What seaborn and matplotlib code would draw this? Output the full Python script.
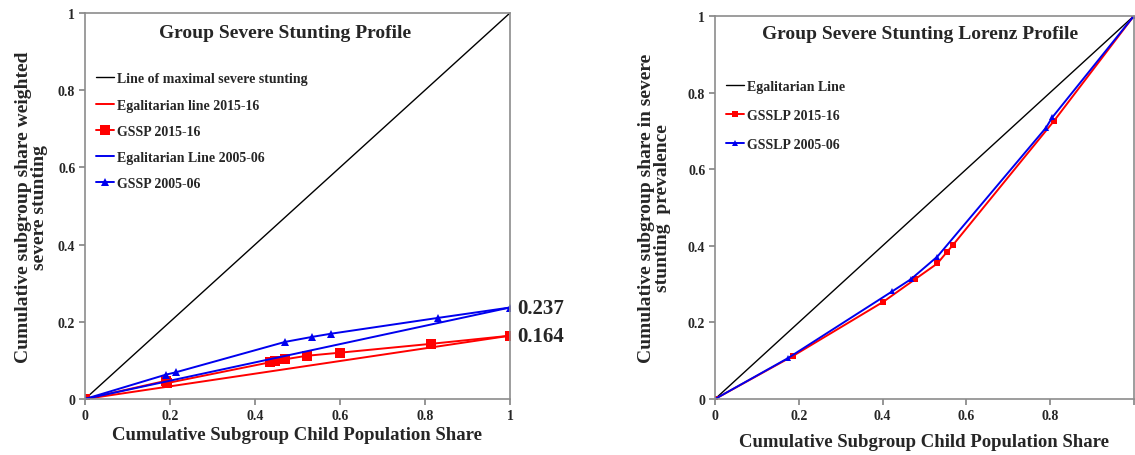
import pandas as pd
import seaborn as sns
import matplotlib.pyplot as plt

# Left panel: Group Severe Stunting Profile
gssp_x_2015 = [0.0, 0.190, 0.192, 0.435, 0.447, 0.471, 0.522, 0.600, 0.815, 1.0]
gssp_y_2015 = [0.0, 0.047, 0.041, 0.095, 0.099, 0.103, 0.112, 0.120, 0.143, 0.164]
gssp_x_2005 = [0.0, 0.190, 0.213, 0.471, 0.535, 0.578, 0.830, 1.0]
gssp_y_2005 = [0.0, 0.063, 0.069, 0.148, 0.161, 0.169, 0.210, 0.237]
egal_end_2015 = 0.164
egal_end_2005 = 0.237

# Right panel: Group Severe Stunting Lorenz Profile
gsslp_x_2015 = [0.0, 0.187, 0.402, 0.478, 0.531, 0.553, 0.568, 0.810, 1.0]
gsslp_y_2015 = [0.0, 0.113, 0.254, 0.313, 0.354, 0.383, 0.402, 0.727, 1.0]
gsslp_x_2005 = [0.0, 0.173, 0.423, 0.468, 0.531, 0.790, 0.805, 1.0]
gsslp_y_2005 = [0.0, 0.106, 0.281, 0.313, 0.372, 0.708, 0.735, 1.0]

ticks = [0, 0.2, 0.4, 0.6, 0.8, 1]
tick_labels = ['0', '0.2', '0.4', '0.6', '0.8', '1']
# the right panel's last x label falls outside the picture in the original
right_x_labels = ['0', '0.2', '0.4', '0.6', '0.8', '']

sns.set_theme(style='white')
plt.rcParams['font.family'] = ['Liberation Serif', 'DejaVu Serif']
plt.rcParams['font.weight'] = 'bold'

RED = '#ff0000'
BLUE = '#0000ee'

fig = plt.figure(figsize=(11.35, 4.56), dpi=100)
ax1 = fig.add_axes([0.0749, 0.1228, 0.3744, 0.8465])
ax2 = fig.add_axes([0.630, 0.1228, 0.369, 0.8400])


def style_axes(ax, xlabels):
    ax.set_xlim(0, 1)
    ax.set_ylim(0, 1)
    ax.set_xticks(ticks)
    ax.set_xticklabels(xlabels)
    ax.set_yticks(ticks)
    ax.set_yticklabels(tick_labels)
    ax.tick_params(axis='both', which='major', direction='out', length=4,
                   color='#888888', labelsize=10, pad=3, bottom=True, left=True)
    for lab in ax.get_xticklabels() + ax.get_yticklabels():
        lab.set_fontweight('bold')
    for sp in ax.spines.values():
        sp.set_color('#8c8c8c')
        sp.set_linewidth(1.2)


# ---- left panel ----
sns.lineplot(x=[0, 1], y=[0, 1], color='black', linewidth=1.0,
             label='Line of maximal severe stunting', ax=ax1)
sns.lineplot(x=[0, 1], y=[0, egal_end_2015], color=RED, linewidth=1.4,
             label='Egalitarian line 2015-16', ax=ax1)
sns.lineplot(x=gssp_x_2015, y=gssp_y_2015, color=RED, linewidth=1.4,
             marker='s', markersize=7, markeredgewidth=0, sort=False,
             estimator=None, label='GSSP 2015-16', ax=ax1)
sns.lineplot(x=[0, 1], y=[0, egal_end_2005], color=BLUE, linewidth=1.4,
             label='Egalitarian Line 2005-06', ax=ax1)
sns.lineplot(x=gssp_x_2005, y=gssp_y_2005, color=BLUE, linewidth=1.4,
             marker='^', markersize=6, markeredgewidth=0, sort=False,
             estimator=None, label='GSSP 2005-06', ax=ax1)
style_axes(ax1, tick_labels)
ax1.text(0.47, 0.95, 'Group Severe Stunting Profile', transform=ax1.transAxes,
         ha='center', va='center', fontsize=14, fontweight='bold')
ax1.annotate(f'{egal_end_2005:.3f}', xy=(1, egal_end_2005), xytext=(5, 0),
             textcoords='offset points', ha='left', va='center',
             fontsize=15, fontweight='bold', annotation_clip=False)
ax1.annotate(f'{egal_end_2015:.3f}', xy=(1, egal_end_2015), xytext=(5, 0),
             textcoords='offset points', ha='left', va='center',
             fontsize=15, fontweight='bold', annotation_clip=False)
ax1.set_xlabel('Cumulative Subgroup Child Population Share', fontsize=13.5,
               fontweight='bold', labelpad=3)
ax1.set_ylabel('Cumulative subgroup share weighted\nsevere stunting', fontsize=14,
               fontweight='bold', labelpad=7, linespacing=0.95)
leg1 = ax1.legend(loc='upper left', bbox_to_anchor=(0.0, 0.875), frameon=False,
                  fontsize=10, handlelength=1.3, handletextpad=0.2,
                  labelspacing=0.95, borderaxespad=0.4)
for t in leg1.get_texts():
    t.set_fontweight('bold')

# ---- right panel ----
sns.lineplot(x=[0, 1], y=[0, 1], color='black', linewidth=1.0,
             label='Egalitarian Line', ax=ax2)
sns.lineplot(x=gsslp_x_2015, y=gsslp_y_2015, color=RED, linewidth=1.4,
             marker='s', markersize=4, markeredgewidth=0, sort=False,
             estimator=None, label='GSSLP 2015-16', ax=ax2)
sns.lineplot(x=gsslp_x_2005, y=gsslp_y_2005, color=BLUE, linewidth=1.4,
             marker='^', markersize=4, markeredgewidth=0, sort=False,
             estimator=None, label='GSSLP 2005-06', ax=ax2)
style_axes(ax2, right_x_labels)
ax2.text(0.49, 0.955, 'Group Severe Stunting Lorenz Profile', transform=ax2.transAxes,
         ha='center', va='center', fontsize=14, fontweight='bold')
ax2.set_xlabel('Cumulative Subgroup Child Population Share', fontsize=13.5,
               fontweight='bold', labelpad=8)
ax2.set_ylabel('Cumulative subgroup share in severe\nstunting  prevalence', fontsize=14,
               fontweight='bold', labelpad=12, linespacing=0.95)
leg2 = ax2.legend(loc='upper left', bbox_to_anchor=(0.0, 0.862), frameon=False,
                  fontsize=10, handlelength=1.3, handletextpad=0.2,
                  labelspacing=1.15, borderaxespad=0.4)
for t in leg2.get_texts():
    t.set_fontweight('bold')

fig.savefig('out.png', dpi=100)
